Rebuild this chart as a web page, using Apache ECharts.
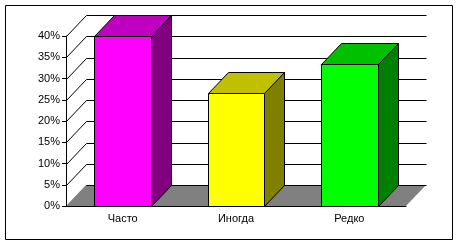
<!DOCTYPE html>
<html>
<head>
<meta charset="utf-8">
<script src="https://cdn.jsdelivr.net/npm/echarts@6/dist/echarts.min.js"></script>
<style>html,body{margin:0;padding:0;background:#fff;}#c{width:460px;height:245px;}</style>
</head>
<body>
<div id="c"></div>
<script>
var categories = ['Часто', 'Иногда', 'Редко'];
var values = [40, 26.7, 33.3];
var frontColors = ['#FF00FF', '#FFFF00', '#00FF00'];
var sideColors = ['#800080', '#808000', '#008000'];
var topColors = ['#C000C0', '#C0C000', '#00C000'];
var yTicks = [0, 5, 10, 15, 20, 25, 30, 35, 40];

var DX = 20, DY = 21;
function p(v) { return Math.round(v) + 0.5; }

var chart = echarts.init(document.getElementById('c'), null, {renderer: 'canvas'});

function wallRender(params, api) {
  var children = [];
  var n = categories.length;
  var bl = api.coord([0, 0]);
  var half = api.size([1, 0])[0] / 2;
  var xL = bl[0] - half, xR = bl[0] + (n - 1) * api.size([1, 0])[0] + half;
  var y0 = api.coord([0, 0])[1];
  var yTop = api.coord([0, yTicks[yTicks.length - 1]])[1];
  // back wall white
  children.push({type: 'rect', shape: {x: xL + DX, y: yTop - DY, width: xR - xL, height: y0 - yTop}, style: {fill: '#fff'}});
  // floor
  children.push({type: 'polygon', shape: {points: [[xL, y0], [xR, y0], [xR + DX, y0 - DY], [xL + DX, y0 - DY]]}, style: {fill: '#808080'}});
  for (var i = 0; i < yTicks.length; i++) {
    var y = api.coord([0, yTicks[i]])[1];
    children.push({type: 'line', shape: {x1: p(xL + DX), y1: p(y - DY), x2: p(xR + DX), y2: p(y - DY)}, style: {stroke: '#000', lineWidth: 1}});
    if (yTicks[i] > 0) {
      children.push({type: 'line', shape: {x1: p(xL), y1: p(y), x2: p(xL + DX), y2: p(y - DY)}, style: {stroke: '#000', lineWidth: 1}});
    }
  }
  return {type: 'group', children: children};
}

function barRender(params, api) {
  var idx = api.value(0);
  var val = api.value(1);
  var base = api.coord([idx, 0]);
  var top = api.coord([idx, val]);
  var w = api.size([1, 0])[0] * 0.5;
  var x0 = p(base[0] - w / 2), x1 = p(base[0] + w / 2);
  var yt = p(top[1]), yb = p(base[1]);
  var i = params.dataIndex;
  var st = {stroke: '#000', lineWidth: 1};
  return {type: 'group', children: [
    {type: 'polygon', shape: {points: [[x1, yt], [x1 + DX, yt - DY], [x1 + DX, yb - DY], [x1, yb]]}, style: Object.assign({fill: sideColors[i]}, st)},
    {type: 'polygon', shape: {points: [[x0, yt], [x0 + DX, yt - DY], [x1 + DX, yt - DY], [x1, yt]]}, style: Object.assign({fill: topColors[i]}, st)},
    {type: 'rect', shape: {x: x0, y: yt, width: x1 - x0, height: yb - yt}, style: Object.assign({fill: frontColors[i]}, st)}
  ]};
}

chart.setOption({
  animation: false,
  backgroundColor: '#fff',
  grid: {left: 66, top: 36, width: 340, height: 170, containLabel: false},
  xAxis: {
    type: 'category', data: categories, boundaryGap: true,
    axisLine: {show: true, lineStyle: {color: '#000', width: 1}},
    axisTick: {show: false},
    axisLabel: {color: '#000', fontFamily: 'Arial, Liberation Sans, sans-serif', fontSize: 11, margin: 7},
    splitLine: {show: false}, z: 5
  },
  yAxis: {
    type: 'value', min: 0, max: 40, interval: 5,
    axisLine: {show: true, lineStyle: {color: '#000', width: 1}},
    axisTick: {show: true, length: 4, lineStyle: {color: '#000'}},
    axisLabel: {color: '#000', fontFamily: 'Arial, Liberation Sans, sans-serif', fontSize: 11, margin: 6, formatter: '{value}%'},
    splitLine: {show: false}, z: 5
  },
  graphic: [{type: 'rect', shape: {x: 5.5, y: 5.5, width: 447, height: 234}, style: {fill: null, stroke: '#000', lineWidth: 1}, z: 100}],
  series: [
    {type: 'custom', renderItem: wallRender, data: [[0, 0]], z: 1, silent: true},
    {type: 'custom', renderItem: barRender, data: values.map(function (v, i) { return [i, v]; }), z: 2, silent: true}
  ]
});
</script>
</body>
</html>
